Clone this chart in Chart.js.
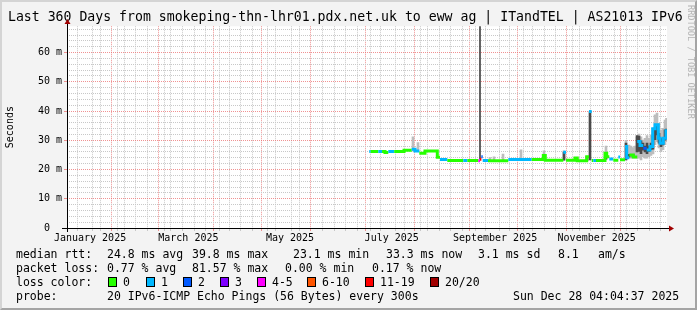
<!DOCTYPE html>
<html>
<head>
<meta charset="utf-8">
<title>SmokePing – Last 360 Days</title>
<script src="https://cdn.jsdelivr.net/npm/chart.js@4/dist/chart.umd.min.js"></script>
<style>
html,body{margin:0;padding:0;background:#f3f3f3;}
#wrap{position:relative;width:697px;height:310px;background:#f3f3f3;overflow:hidden;font-family:"DejaVu Sans Mono",monospace;}
#c{position:absolute;left:0;top:0;}
#frame{position:absolute;left:0;top:0;width:697px;height:310px;box-sizing:border-box;border-style:solid;border-width:2px;border-color:#d4d4d4 #a4a4a4 #a4a4a4 #d4d4d4;pointer-events:none;}
.t{position:absolute;font-size:11.5px;line-height:14px;white-space:pre;color:#000;}
.box{position:absolute;width:7px;height:8px;border:1px solid #000;}
#rrd{position:absolute;left:686px;top:5px;font-size:8.6px;line-height:10px;color:#b4b4b4;writing-mode:vertical-rl;white-space:nowrap;}
</style>
</head>
<body>
<div id="wrap">
  <canvas id="c" width="697" height="310"></canvas>
  <span class="t" style="left:16px;top:247px">median rtt:</span>
  <span class="t" style="left:107px;top:247px">24.8 ms avg</span>
  <span class="t" style="left:192px;top:247px">39.8 ms max</span>
  <span class="t" style="left:293px;top:247px">23.1 ms min</span>
  <span class="t" style="left:386px;top:247px">33.3 ms now</span>
  <span class="t" style="left:478px;top:247px">3.1 ms sd</span>
  <span class="t" style="left:558px;top:247px">8.1</span>
  <span class="t" style="left:598px;top:247px">am/s</span>

  <span class="t" style="left:16px;top:261px">packet loss:</span>
  <span class="t" style="left:107px;top:261px">0.77 % avg</span>
  <span class="t" style="left:192px;top:261px">81.57 % max</span>
  <span class="t" style="left:285px;top:261px">0.00 % min</span>
  <span class="t" style="left:372px;top:261px">0.17 % now</span>

  <span class="t" style="left:16px;top:275px">loss color:</span>
  <div id="lossRow"></div>

  <span class="t" style="left:16px;top:289px">probe:</span>
  <span class="t" style="left:107px;top:289px">20 IPv6-ICMP Echo Pings (56 Bytes) every 300s</span>
  <span class="t" style="left:513px;top:289px">Sun Dec 28 04:04:37 2025</span>

  <div id="rrd">RRDTOOL / TOBI OETIKER</div>
  <div id="frame"></div>
</div>
<script>
// ---------------- data (x = days since 1 Jan 2025 00:00) ----------------
// median RTT steps (ms): each step starts at medDay[i] and lasts until medDay[i+1]
const medDay  = [182.55,183.39,187.95,190.20,191.97,193.95,197.50,203.40,207.99,209.97,212.55,215.97,223.35,224.97,229.35,238.95,241.35,247.95,248.97,249.79,250.59,253.77,265.95,279.99,286.95,288.15,298.95,300.57,305.97,307.35,312.99,314.37,315.99,316.95,318.57,323.97,324.99,326.55,328.95,331.95,332.97,335.97,336.99,338.55,340.95,343.35,344.97,346.95,348.99,350.97,352.59,353.97,355.95,356.97,358.95,360.57,361.17];
const medMs   = [26.2,26.2,26.2,26.2,25.8,26.2,26.2,26.6,26.9,26.3,25.6,26.3,24.2,23.4,23.1,23.1,23.1,23.0,23.5,24.4,23.1,23.0,23.4,23.4,24.8,23.2,25.9,23.2,23.9,23.0,24.4,39.8,23.1,23.1,23.1,25.6,24.4,23.6,23.2,24.3,23.3,27.9,24.0,25.0,24.3,29.6,28.2,27.3,26.7,27.9,33.9,35.3,30.7,29.0,30.7,33.3,33.3];
const medLoss = [1,0,1,0,0,1,0,0,1,1,0,0,0,1,0,1,0,4,6,2,1,0,1,0,0,0,1,0,0,0,0,1,0,1,0,0,0,1,0,1,0,1,1,0,0,1,1,2,1,1,1,1,1,1,1,1,1];

// smoke: full spread of the 20 pings (light) and the dense core (dark), ms
const smokeDay = [208.77,211.77,254.97,257.37,262.77,273.57,287.37,299.37,324.57,336.57,338.37,339.57,340.77,341.97,343.17,344.37,345.57,346.77,347.97,349.17,350.37,351.57,352.77,353.97,355.17,356.37,357.57,358.77,359.97,360.87];
const smokeLo  = [26.3,26.3,23.0,23.0,23.0,23.4,23.4,23.2,23.5,23.3,23.9,23.9,23.9,23.9,23.9,23.9,23.3,24.4,23.9,23.9,24.4,24.8,25.3,28.5,29.5,27.4,26.2,26.8,28.5,29.5];
const smokeHi  = [31.2,29.2,24.1,24.3,25.3,26.7,26.4,26.4,28.0,30.0,28.4,28.0,27.5,28.0,31.0,32.1,31.2,30.1,30.7,31.6,30.7,31.9,34.1,38.7,39.3,35.8,33.5,34.1,36.9,37.5];
const coreDay  = [287.37,299.37,306.57,313.17,314.97,324.57,336.57,338.37,340.77,343.17,344.37,345.57,346.77,347.97,349.17,350.37,351.57,352.77,353.97,355.17,356.37,357.57,358.77,359.97,360.87];
const coreLo   = [23.4,23.2,23.0,23.0,23.3,23.5,23.3,24.2,24.2,26.0,26.2,25.4,26.6,26.0,25.4,26.2,26.8,27.0,30.2,31.8,29.0,27.8,28.4,30.0,31.0];
const coreHi   = [25.0,26.0,24.1,24.5,39.8,25.8,29.0,25.2,25.2,31.6,31.4,29.8,29.0,28.0,29.0,28.0,29.0,31.4,34.2,35.4,32.4,30.6,30.8,33.6,33.8];
// the single off-scale outlier (clipped at the top of the graph)
const spikeDay = [248.97];
const spikeLo  = [23.5];
const spikeHi  = [100];

// axis ticks / labels
const monthStarts = [31,59,90,120,151,181,212,243,273,304,334];
const labelDays   = [15,74,135,196,258,319];
const monthLabels = ['January 2025','March 2025','May 2025','July 2025','September 2025','November 2025'];
const firstSunday = 4;
const yTickValues = [0,2,4,6,8,10,12,14,16,18,20,22,24,26,28,30,32,34,36,38,40,42,44,46,48,50,52,54,56,58,60,62,64,66,68];

// loss legend
const lossColors = ['#26ff00','#00b8ff','#0059ff','#7e00ff','#ff00ff','#ff5500','#ff0000','#a10000'];
const lossNames  = ['0','1','2','3','4-5','6-10','11-19','20/20'];

// ---------------- legend boxes ----------------
const boxX = [108,146,183,220,257,307,365,430];
const row = document.getElementById('lossRow');
lossNames.forEach((n,i) => {
  const b = document.createElement('div');
  b.className = 'box';
  b.style.left = boxX[i] + 'px'; b.style.top = '277px'; b.style.background = lossColors[i];
  row.appendChild(b);
  const s = document.createElement('span');
  s.className = 't';
  s.style.left = (boxX[i] + 15) + 'px'; s.style.top = '275px';
  s.textContent = n;
  row.appendChild(s);
});

// ---------------- median line: horizontal steps, joined only within one loss class ----------------
const medPts = [], medPtLoss = [];
for (let i = 0; i < medDay.length - 1; i++) {
  medPts.push({x: medDay[i], y: medMs[i]});     medPtLoss.push(medLoss[i]);
  medPts.push({x: medDay[i + 1], y: medMs[i]}); medPtLoss.push(medLoss[i]);
  if (i < medDay.length - 2 && medLoss[i + 1] !== medLoss[i]) {
    medPts.push({x: medDay[i + 1], y: null});   medPtLoss.push(medLoss[i]);
  }
}

// ---------------- x tick bookkeeping ----------------
const xKinds = new Map();
for (let d = firstSunday; d <= 361.17; d += 7) xKinds.set(d, {grid:'w', label:''});
monthStarts.forEach(d => xKinds.set(d, {grid:'m', label:''}));
labelDays.forEach((d,i) => {
  const k = xKinds.get(d);
  xKinds.set(d, {grid: k ? k.grid : null, label: monthLabels[i]});
});

const RED = 'rgba(235,110,110,0.75)';
const GRAY = '#c8c8c8';
const MONO = 'DejaVu Sans Mono';

const frame = {
  id: 'frame',
  beforeDraw(chart) {
    const {ctx, chartArea: a} = chart;
    ctx.save();
    ctx.fillStyle = '#ffffff';
    ctx.fillRect(a.left, a.top, a.right - a.left, a.bottom - a.top);
    ctx.restore();
  },
  afterDraw(chart) {
    const {ctx, chartArea: a} = chart;
    const L = Math.round(a.left), B = Math.round(a.bottom), R = Math.round(a.right), T = Math.round(a.top);
    ctx.save();
    ctx.strokeStyle = '#000'; ctx.lineWidth = 1;
    ctx.beginPath();
    ctx.moveTo(L - 5, B + 0.5); ctx.lineTo(R + 3, B + 0.5);
    ctx.moveTo(L + 0.5, B + 4); ctx.lineTo(L + 0.5, T - 3);
    ctx.stroke();
    ctx.fillStyle = '#a00000';
    ctx.beginPath(); ctx.moveTo(R + 7, B + 0.5); ctx.lineTo(R + 2, B - 2.5); ctx.lineTo(R + 2, B + 3.5); ctx.closePath(); ctx.fill();
    ctx.beginPath(); ctx.moveTo(L + 0.5, T - 7); ctx.lineTo(L - 2.5, T - 2); ctx.lineTo(L + 3.5, T - 2); ctx.closePath(); ctx.fill();
    ctx.restore();
  }
};

new Chart(document.getElementById('c'), {
  type: 'line',
  data: {
    datasets: [
      {
        type: 'line', label: 'median rtt',
        data: medPts,
        borderWidth: 3, pointRadius: 0, fill: false, spanGaps: false, tension: 0,
        borderColor: lossColors[0],
        segment: { borderColor: c => lossColors[medPtLoss[c.p0DataIndex]] },
        order: 1, clip: 0
      },
      {
        type: 'bar', label: 'outlier',
        data: spikeDay.map((d,i) => ({x: d, y: [spikeLo[i], spikeHi[i]]})),
        backgroundColor: '#444444', borderWidth: 0, barThickness: 1, grouped: false,
        order: 2, clip: 0
      },
      {
        type: 'bar', label: 'smoke core',
        data: coreDay.map((d,i) => ({x: d, y: [coreLo[i], coreHi[i]]})),
        backgroundColor: '#4a4a4a', borderWidth: 0, barThickness: 2, grouped: false,
        order: 2, clip: 0
      },
      {
        type: 'bar', label: 'smoke',
        data: smokeDay.map((d,i) => ({x: d, y: [smokeLo[i], smokeHi[i]]})),
        backgroundColor: '#bdbdbd', borderWidth: 0, barThickness: 2, grouped: false,
        order: 3, clip: 0
      }
    ]
  },
  options: {
    responsive: false, animation: false, events: [],
    layout: { padding: { left: 0, right: 0, top: 0, bottom: 62 } },
    plugins: {
      legend: { display: false },
      tooltip: { enabled: false },
      title: {
        display: true, align: 'start', color: '#000',
        text: ' Last 360 Days from smokeping-thn-lhr01.pdx.net.uk to eww ag | ITandTEL | AS21013 IPv6',
        font: { family: MONO, size: 13.2, weight: 'normal', lineHeight: 1.2 },
        padding: { top: 10, bottom: 0.4 }
      }
    },
    scales: {
      x: {
        type: 'linear', min: 1.17, max: 361.17, offset: false,
        afterBuildTicks: s => { s.ticks = [...xKinds.keys()].sort((a,b) => a-b).map(v => ({value: v})); },
        afterFit: s => { s.height = 20; },
        grid: {
          color: c => { const k = xKinds.get(c.tick && c.tick.value); return !k || !k.grid ? 'rgba(0,0,0,0)' : (k.grid === 'm' ? RED : GRAY); },
          tickColor: c => { const k = xKinds.get(c.tick && c.tick.value); return !k || !k.grid ? 'rgba(0,0,0,0)' : (k.grid === 'm' ? RED : GRAY); },
          lineWidth: 1, tickLength: 3, drawTicks: true
        },
        border: { display: false, dash: [1,1] },
        ticks: {
          autoSkip: false, maxRotation: 0, minRotation: 0, padding: 1, color: '#000',
          font: { family: MONO, size: 10 },
          callback: v => { const k = xKinds.get(v); return k ? k.label : ''; }
        }
      },
      y: {
        type: 'linear', min: 0, max: 69,
        afterBuildTicks: s => { s.ticks = yTickValues.map(v => ({value: v})); },
        afterFit: s => { s.width = 67; },
        grid: {
          color: c => (c.tick && c.tick.value % 10 === 0) ? RED : GRAY,
          tickColor: c => (c.tick && c.tick.value % 10 === 0) ? RED : 'rgba(0,0,0,0)',
          lineWidth: 1, tickLength: 3
        },
        border: { display: false, dash: [1,1] },
        title: { display: true, text: 'Seconds', color: '#000', font: { family: MONO, size: 10 }, padding: { top: 4, bottom: 0 } },
        ticks: {
          autoSkip: false, padding: 2, color: '#000',
          font: { family: MONO, size: 10 },
          callback: v => v % 10 !== 0 ? '' : (v === 0 ? '0  ' : v + ' m')
        }
      },
      yRight: {
        type: 'linear', position: 'right', display: true,
        grid: { display: false }, border: { display: false }, ticks: { display: false },
        afterFit: s => { s.width = 30; }
      }
    }
  },
  plugins: [frame]
});
</script>
</body>
</html>
